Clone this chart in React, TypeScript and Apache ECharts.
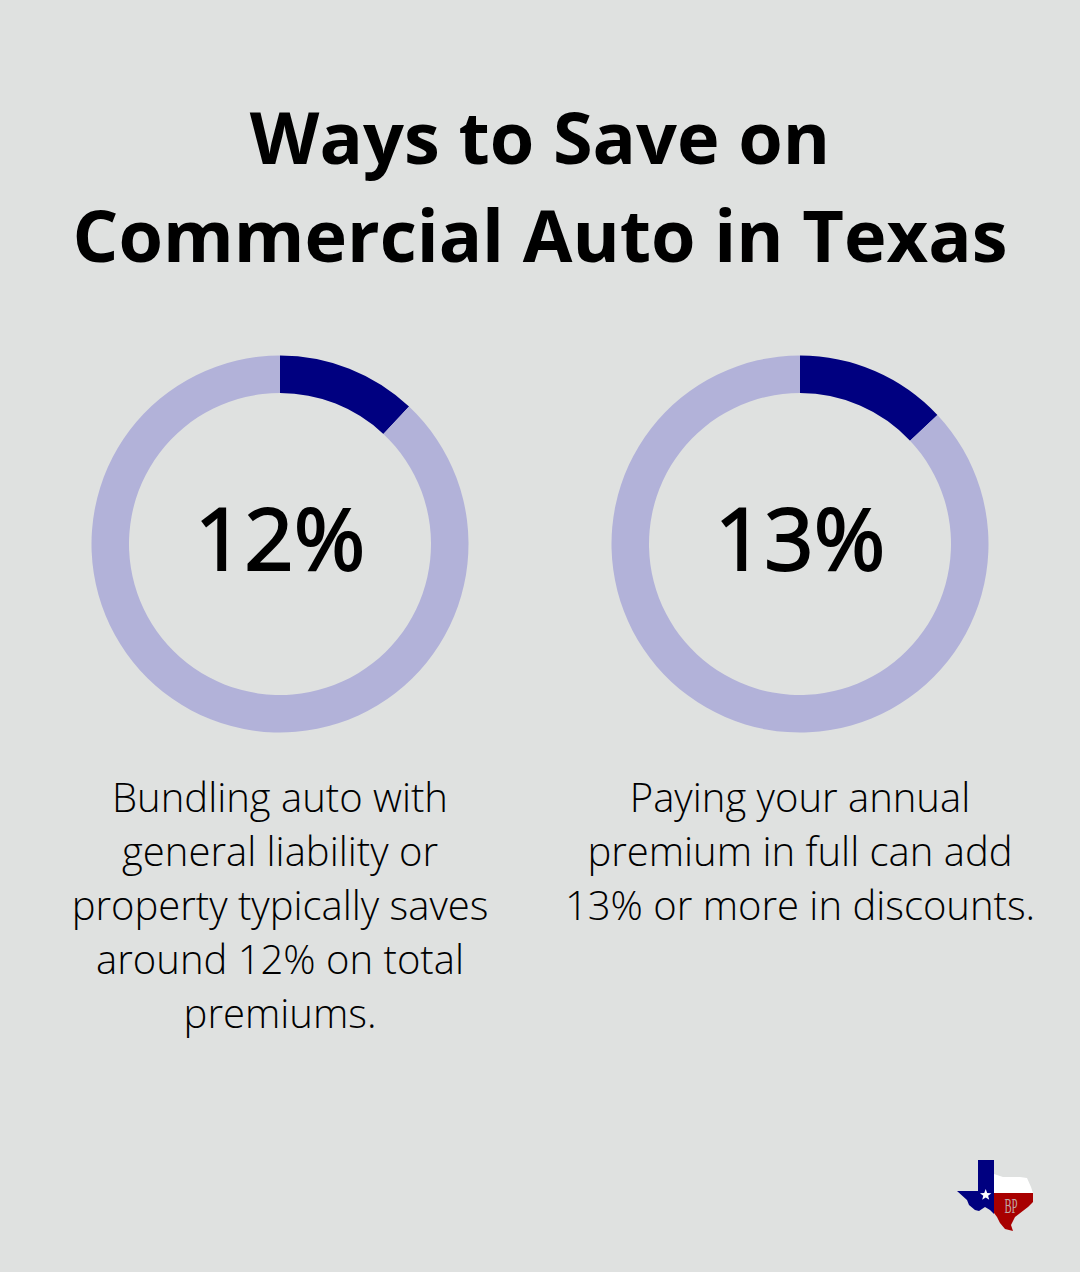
import React, { useEffect, useRef } from 'react';
import * as echarts from 'echarts';

const titleLines = ['Ways to Save on', 'Commercial Auto in Texas'];
const percents = [12, 13];
const captions = [
  ['Bundling auto with', 'general liability or', 'property typically saves', 'around 12% on total', 'premiums.'],
  ['Paying your annual', 'premium in full can add', '13% or more in discounts.'],
];

const centers = [280, 800];
const font = '"Open Sans", sans-serif';

// logo outline, page pixels
const logoBlue = [[957, 1191], [978, 1191], [978, 1160], [994, 1160], [994, 1214], [990, 1210], [985, 1207], [979, 1211], [975, 1210], [969, 1205], [967, 1200]];
const logoWhite = [[994, 1174], [1003, 1177], [1020, 1177], [1027, 1178], [1031, 1187], [1033, 1193], [994, 1193]];
const logoRed = [[994, 1193], [1033, 1193], [1033, 1202], [1028, 1207], [1015, 1217], [1011, 1225], [1013, 1231], [1005, 1229], [1000, 1223], [997, 1217], [994, 1213]];

function starPoints(cx: number, cy: number, r: number) {
  const pts: number[][] = [];
  for (let i = 0; i < 10; i++) {
    const rad = i % 2 === 0 ? r : r * 0.42;
    const a = -Math.PI / 2 + (i * Math.PI) / 5;
    pts.push([cx + rad * Math.cos(a), cy + rad * Math.sin(a)]);
  }
  return pts;
}

export default function App() {
  const chartRef = useRef<HTMLDivElement>(null);

  useEffect(() => {
    const myChart = echarts.init(chartRef.current, null, { renderer: 'svg' });

    const titles: any[] = titleLines.map((line, i) => ({
      text: line,
      left: 535,
      top: 82 + i * 98,
      textAlign: 'center',
      textStyle: { fontFamily: font, fontWeight: 700, fontSize: 72, color: '#000000', lineHeight: 98 },
    }));
    captions.forEach((lines, c) => {
      lines.forEach((line, i) => {
        titles.push({
          text: line,
          left: centers[c] - 5,
          top: 764 + i * 54,
          textAlign: 'center',
          textStyle: { fontFamily: font, fontWeight: 300, fontSize: 40, color: '#000000', lineHeight: 54 },
        });
      });
    });

    const option = {
      animation: false,
      backgroundColor: '#dfe1e0',
      title: titles,
      series: percents.map((p, i) => ({
        type: 'pie',
        silent: true,
        center: [centers[i], 544],
        radius: [151, 188.5],
        startAngle: 90,
        clockwise: true,
        labelLine: { show: false },
        label: { show: false },
        data: [
          {
            value: p,
            itemStyle: { color: '#000080' },
            label: {
              show: true,
              position: 'center',
              formatter: p + '%',
              fontFamily: font,
              fontWeight: 400,
              fontSize: 86.5,
              color: '#000000',
              // reference digits are a bit heavier than the regular face
              textBorderColor: '#000000',
              textBorderWidth: 2,
              offset: [0, -8],
            },
          },
          { value: 100 - p, itemStyle: { color: '#b2b2d9' } },
        ],
      })),
      graphic: [
        { type: 'polygon', shape: { points: logoBlue }, style: { fill: '#000080' } },
        { type: 'polygon', shape: { points: logoWhite }, style: { fill: '#ffffff' } },
        { type: 'polygon', shape: { points: logoRed }, style: { fill: '#a80000' } },
        { type: 'polygon', shape: { points: starPoints(985.7, 1195, 6) }, style: { fill: '#ffffff' } },
        { type: 'text', x: 1011, y: 1206, scaleX: 0.6, scaleY: 1.2, style: { text: 'BP', font: '18px "Liberation Serif"', fill: '#c0a8a8', textAlign: 'center', textVerticalAlign: 'middle' } },
      ],
    };

    myChart.setOption(option);

    return () => {
      myChart.dispose();
    };
  }, []);

  return <div ref={chartRef} style={{ position: 'fixed', left: 0, top: 0, width: 1080, height: 1272 }}></div>;
}
